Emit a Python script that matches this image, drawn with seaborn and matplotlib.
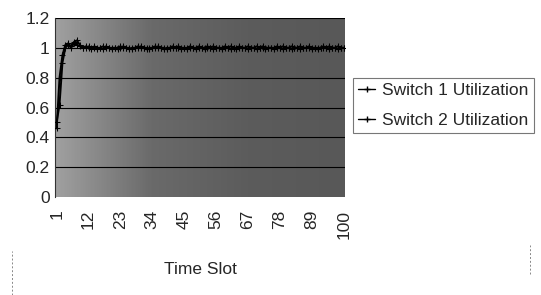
import numpy as np
import pandas as pd
import matplotlib
matplotlib.use('Agg')
import matplotlib.pyplot as plt
from matplotlib.lines import Line2D
from matplotlib.colors import LinearSegmentedColormap
import seaborn as sns

# values (100 time slots)
time_slot = list(range(1, 101))
switch1 = [0.46, 0.80, 0.95, 1.02, 1.03, 1.01, 1.04, 1.05, 1.02, 1.00,
           1.01, 1.00, 0.99, 1.01, 1.00, 1.00, 0.99, 1.01, 1.00, 1.00,
           1.00, 0.99, 1.00, 1.01, 1.00, 0.99, 1.00, 1.00, 1.01, 1.00,
           1.00, 1.00, 0.99, 1.00, 1.01, 1.00, 1.00, 0.99, 1.00, 1.00,
           1.01, 1.00, 1.00, 0.99, 1.00, 1.00, 1.01, 1.00, 0.99, 1.00,
           1.00, 1.00, 1.01, 1.00, 0.99, 1.00, 1.00, 1.00, 1.01, 1.00,
           0.99, 1.00, 1.00, 1.01, 1.00, 1.00, 0.99, 1.00, 1.00, 1.01,
           1.00, 1.00, 0.99, 1.00, 1.00, 1.00, 1.01, 1.00, 0.99, 1.00,
           1.00, 1.01, 1.00, 1.00, 0.99, 1.00, 1.00, 1.01, 1.00, 1.00,
           0.99, 1.00, 1.00, 1.00, 1.01, 1.00, 1.00, 0.99, 1.00, 1.00]
switch2 = [0.50, 0.62, 0.90, 1.00, 1.02, 1.00, 1.03, 1.02, 1.01, 1.00,
           1.00, 1.01, 1.00, 1.00, 0.99, 1.00, 1.01, 1.00, 1.00, 0.99,
           1.00, 1.00, 1.01, 1.00, 1.00, 1.00, 0.99, 1.00, 1.00, 1.01,
           1.00, 0.99, 1.00, 1.00, 1.00, 1.01, 1.00, 1.00, 0.99, 1.00,
           1.00, 1.00, 1.01, 1.00, 1.00, 0.99, 1.00, 1.00, 1.00, 1.01,
           1.00, 0.99, 1.00, 1.00, 1.01, 1.00, 1.00, 0.99, 1.00, 1.00,
           1.01, 1.00, 0.99, 1.00, 1.00, 1.00, 1.01, 1.00, 1.00, 0.99,
           1.00, 1.01, 1.00, 1.00, 1.00, 0.99, 1.00, 1.00, 1.01, 1.00,
           1.00, 0.99, 1.00, 1.00, 1.01, 1.00, 1.00, 1.00, 0.99, 1.00,
           1.00, 1.00, 1.01, 1.00, 0.99, 1.00, 1.00, 1.01, 1.00, 1.00]
series_names = ['Switch 1 Utilization', 'Switch 2 Utilization']
x_ticks = [1, 12, 23, 34, 45, 56, 67, 78, 89, 100]
y_ticks = [0, 0.2, 0.4, 0.6, 0.8, 1, 1.2]
y_labels = ['0', '0.2', '0.4', '0.6', '0.8', '1', '1.2']

df = pd.concat([
    pd.DataFrame({'slot': time_slot, 'util': switch1, 'series': series_names[0]}),
    pd.DataFrame({'slot': time_slot, 'util': switch2, 'series': series_names[1]}),
])

sns.set_style('white')
plt.rcParams['font.family'] = ['Liberation Sans', 'DejaVu Sans']
fs = 12.5

fig = plt.figure(figsize=(5.41, 2.95), dpi=100)
ax = fig.add_axes([0.102, 0.332, 0.536, 0.607])

# scanned grey plot area: lighter on the left, darker to the right
bg = LinearSegmentedColormap.from_list('scan', ['#a0a0a0', '#6a6a6a', '#5c5c5c', '#585858'])
ax.imshow(np.linspace(0, 1, 200).reshape(1, -1), cmap=bg, aspect='auto',
          extent=(0.5, 100.5, 0, 1.2), zorder=0)

sns.lineplot(data=df, x='slot', y='util', hue='series', hue_order=series_names,
             palette=['black', 'black'], marker='+', markersize=4, linewidth=1.4,
             markeredgecolor='black', ax=ax, legend=False, zorder=3)

for yv in y_ticks[1:]:
    ax.axhline(yv, color='black', linewidth=0.8, zorder=2)

ax.set_xlim(0.5, 100.5)
ax.set_ylim(0, 1.2)
ax.set_xticks(x_ticks)
ax.set_xticklabels([str(t) for t in x_ticks], rotation=90, fontsize=fs)
ax.set_yticks(y_ticks)
ax.set_yticklabels(y_labels, fontsize=fs)
ax.tick_params(length=0)
ax.tick_params(axis='y', pad=4)
ax.tick_params(axis='x', pad=9)
ax.set_xlabel('Time Slot', fontsize=fs, labelpad=17)
ax.set_ylabel('')
for s in ax.spines.values():
    s.set_visible(False)
ax.spines['left'].set_visible(True)
ax.spines['left'].set_color('#333333')
ax.spines['left'].set_linewidth(0.8)

handles = [Line2D([], [], color='black', linewidth=1, marker='+', markersize=4)
           for _ in series_names]
leg = fig.legend(handles, series_names, loc='upper left',
                 bbox_to_anchor=(0.652, 0.736), frameon=True, fancybox=False,
                 fontsize=fs, handlelength=1.0, handletextpad=0.4,
                 borderpad=0.3, labelspacing=0.85, borderaxespad=0)
leg.get_frame().set_edgecolor('#555555')
leg.get_frame().set_linewidth(0.8)

# faint dashed border remnants from the scan
fig.add_artist(Line2D([0.022, 0.022], [0.0, 0.15], transform=fig.transFigure,
                      color='#888888', linestyle=(0, (2, 2)), linewidth=0.7))
fig.add_artist(Line2D([0.98, 0.98], [0.07, 0.17], transform=fig.transFigure,
                      color='#888888', linestyle=(0, (2, 2)), linewidth=0.7))

fig.savefig('out.png', dpi=100)
